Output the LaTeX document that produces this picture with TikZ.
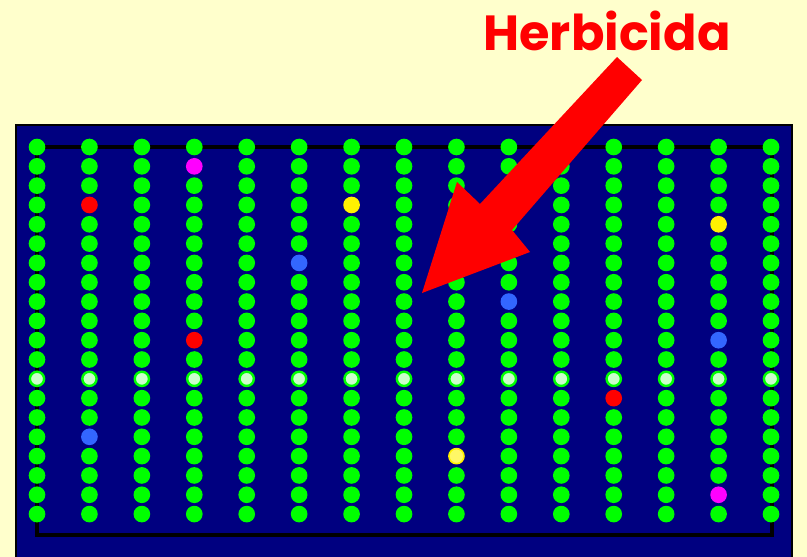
\documentclass[tikz,border=0pt]{standalone}
\usepackage{fontspec}
\newfontfamily\labelfont{Poppins}
\definecolor{paper}{HTML}{FFFFCC}
\definecolor{field}{HTML}{000080}
\definecolor{plant}{HTML}{00FF00}
\definecolor{paleplant}{HTML}{CCFFCC}
\definecolor{weedblue}{HTML}{3366FF}
\definecolor{weedpink}{HTML}{FF00FF}
\tikzset{
  plantdot/.style={circle,fill=plant,inner sep=0pt,minimum size=12.5},
  % weeds in the field
  d3-1/.style={fill=weedpink},
  d13-18/.style={fill=weedpink},
  d1-3/.style={fill=red},
  d3-10/.style={fill=red},
  d11-13/.style={fill=red},
  d6-3/.style={fill=yellow},
  d13-4/.style={fill=yellow},
  d8-16/.style={fill=yellow!60!white,draw=yellow,line width=1.2,minimum size=11.3},
  d5-6/.style={fill=weedblue},
  d9-8/.style={fill=weedblue},
  d13-10/.style={fill=weedblue},
  d1-15/.style={fill=weedblue},
  % the marked row
  row12/.style={fill=paleplant,draw=plant,line width=1.8,minimum size=10.7},
}
\begin{document}
\begin{tikzpicture}[x=0.75pt,y=-0.75pt]
\useasboundingbox[fill=paper] (0,0) rectangle (807,557);
% field
\fill[field] (16,125) rectangle (792,557);
\draw[line width=2.2] (16,557) -- (16,125) -- (792,125) -- (792,557);
\draw[line width=2.4] (37,147) rectangle (772,535);
% rows of plants
\foreach \i in {0,...,14}
  \foreach \j in {0,...,19}
    \node[plantdot,row\j/.try,d\i-\j/.try] (p\i-\j) at ({37+52.43*\i},{147+19.32*\j}) {};
% arrow
\fill[red] (617,57) -- (642,80) -- (512,230) -- (530,252) -- (422,293)
  -- (457,182) -- (480,204) -- cycle;
\node[text=red,font=\labelfont\bfseries\fontsize{37}{37}\selectfont] (herb) at (607,31) {Herbicida};
\end{tikzpicture}
\end{document}
